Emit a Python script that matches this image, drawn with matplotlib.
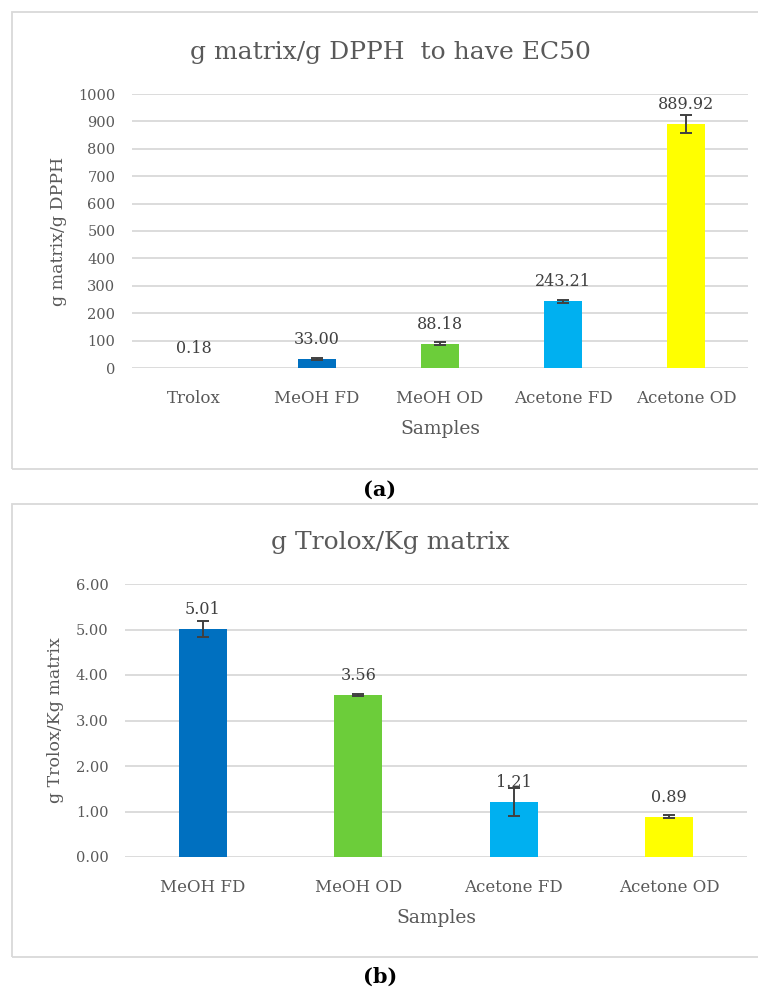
import matplotlib

matplotlib.use("Agg")
import matplotlib.pyplot as plt
from matplotlib.patches import Rectangle

# Panel (a): g matrix / g DPPH needed to reach EC50
ec50_samples = ["Trolox", "MeOH FD", "MeOH OD", "Acetone FD", "Acetone OD"]
ec50_values = [0.18, 33.00, 88.18, 243.21, 889.92]
ec50_errors = [0.0, 3.0, 5.0, 6.0, 34.0]
ec50_colors = ["#7F7F7F", "#0070C0", "#6CCD3A", "#00B0F0", "#FFFF00"]

# Panel (b): g Trolox equivalents / Kg matrix
teac_samples = ["MeOH FD", "MeOH OD", "Acetone FD", "Acetone OD"]
teac_values = [5.01, 3.56, 1.21, 0.89]
teac_errors = [0.17, 0.015, 0.30, 0.035]
teac_colors = ["#0070C0", "#6CCD3A", "#00B0F0", "#FFFF00"]

plt.rcParams["font.family"] = ["DejaVu Serif"]
TEXT = "#595959"
GRID = "#D9D9D9"

W, H = 758, 989
fig = plt.figure(figsize=(W / 100, H / 100), dpi=100)


def px_axes(left, top, right, bottom):
    return fig.add_axes([left / W, 1 - bottom / H, (right - left) / W,
                         (bottom - top) / H])


def style(ax, ymax, step, fmt):
    ax.set_ylim(0, ymax)
    ticks = [i * step for i in range(int(round(ymax / step)) + 1)]
    ax.set_yticks(ticks)
    ax.set_yticklabels([fmt.format(t) for t in ticks])
    ax.yaxis.grid(True, color=GRID, linewidth=1.3)
    ax.set_axisbelow(True)
    for s in ax.spines.values():
        s.set_visible(False)
    ax.tick_params(length=0, colors=TEXT, labelsize=10.5)
    ax.tick_params(axis="x", pad=16, labelsize=12)
    ax.tick_params(axis="y", pad=12)


def bars(ax, names, vals, errs, colors, fmt):
    x = list(range(len(names)))
    ax.bar(x, vals, width=0.31, color=colors, zorder=2)
    shown = [i for i in x if errs[i] > 0]
    ax.errorbar([x[i] for i in shown], [vals[i] for i in shown],
                yerr=[errs[i] for i in shown], fmt="none", ecolor="#404040",
                elinewidth=1.4, capsize=4, capthick=1.4, zorder=3)
    for xi, v in zip(x, vals):
        ax.annotate(fmt.format(v), (xi, v), xytext=(0, 14),
                    textcoords="offset points", ha="center", va="center",
                    color="#404040", fontsize=11.5)
    ax.set_xticks(x)
    ax.set_xticklabels(names)
    ax.set_xlim(-0.5, len(names) - 0.5)


# frames around each panel
for top, bottom in [(12, 469), (504, 957)]:
    fig.patches.append(Rectangle((12 / W, 1 - bottom / H), (780 - 12) / W,
                                 (bottom - top) / H, transform=fig.transFigure,
                                 fill=False, edgecolor="#D9D9D9", linewidth=1.3))

# (a)
axA = px_axes(132, 94, 748, 368)
style(axA, 1000, 100, "{:.0f}")
bars(axA, ec50_samples, ec50_values, ec50_errors, ec50_colors, "{:.2f}")
axA.set_xlabel("Samples", color=TEXT, fontsize=13.5, labelpad=9)
axA.set_ylabel("g matrix/g DPPH", color=TEXT, fontsize=12.5, labelpad=8)
fig.text(390 / W, 1 - 53 / H, "g matrix/g DPPH  to have EC50", ha="center",
         va="center", color=TEXT, fontsize=18)
fig.text(380 / W, 1 - 490 / H, "(a)", ha="center", va="center",
         color="black", fontsize=15, fontweight="bold")

# (b)
axB = px_axes(125, 584, 747, 857)
style(axB, 6, 1, "{:.2f}")
bars(axB, teac_samples, teac_values, teac_errors, teac_colors, "{:.2f}")
axB.set_xlabel("Samples", color=TEXT, fontsize=13.5, labelpad=9)
axB.set_ylabel("g Trolox/Kg matrix", color=TEXT, fontsize=12.5, labelpad=8)
fig.text(390 / W, 1 - 543 / H, "g Trolox/Kg matrix", ha="center",
         va="center", color=TEXT, fontsize=18)
fig.text(380 / W, 1 - 977 / H, "(b)", ha="center", va="center",
         color="black", fontsize=15, fontweight="bold")

fig.savefig("out.png", dpi=100)
